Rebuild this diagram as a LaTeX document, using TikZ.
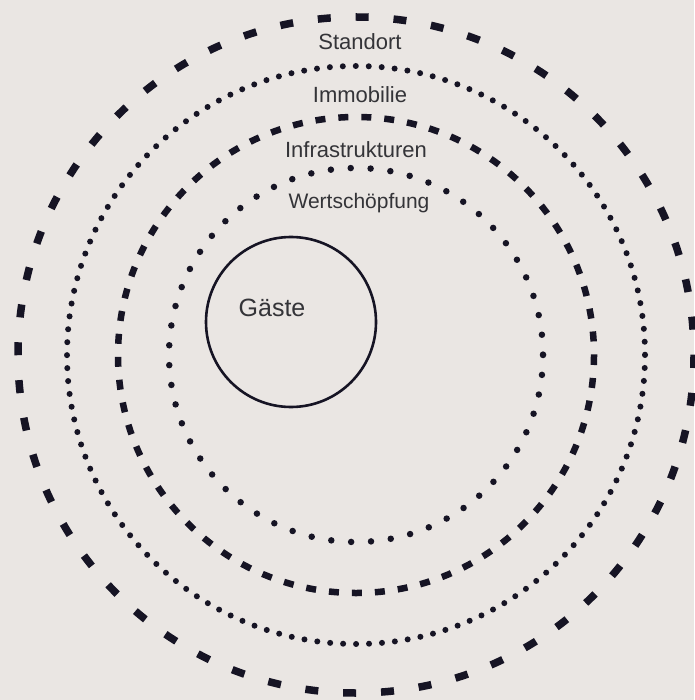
\documentclass[tikz,border=0pt]{standalone}
\usepackage{fontspec}
\setmainfont{Liberation Sans}
\usepackage{tikz}
\definecolor{ringC}{RGB}{22,20,36}
\definecolor{texteC}{RGB}{52,52,56}
\definecolor{fondC}{RGB}{234,230,227}
\tikzset{
  tirets/.style 2 args={draw=ringC, line width=#1, dash pattern=#2},
  points/.style 2 args={draw=ringC, line width=#1, line cap=round, dash pattern=on 0pt off #2},
  etiq/.style={text=texteC, font=\fontsize{#1}{#1}\selectfont, inner sep=0pt},
}
\begin{document}
\begin{tikzpicture}[x=1pt, y=-1pt]
        \fill[fondC] (0,0) rectangle (694,700);
        \useasboundingbox (0,0) rectangle (694,700);
        \coordinate (m) at (356,355);
        % Ringe von aussen nach innen
        \draw[tirets={7.5pt}{on 13pt off 24.92pt}] (m) circle[radius=338];
        \draw[points={6pt}{12.97pt}] (m) circle[radius=289];
        \draw[tirets={6.5pt}{on 10pt off 13pt}] (m) circle[radius=238];
        \draw[points={6.5pt}{19.91pt}] (m) circle[radius=187];
        \draw[ringC, line width=2.6pt] (291,322) circle[radius=85];
        % Beschriftungen
        \node[etiq=22] (standort) at (360,42) {Standort};
        \node[etiq=22] (immo) at (360,95) {Immobilie};
        \node[etiq=22] (infra) at (356,150) {Infrastrukturen};
        \node[etiq=21] (wert) at (359,203) {Wertschöpfung};
        \node[etiq=25] (gaeste) at (272,308) {Gäste};
      \end{tikzpicture}
\end{document}
